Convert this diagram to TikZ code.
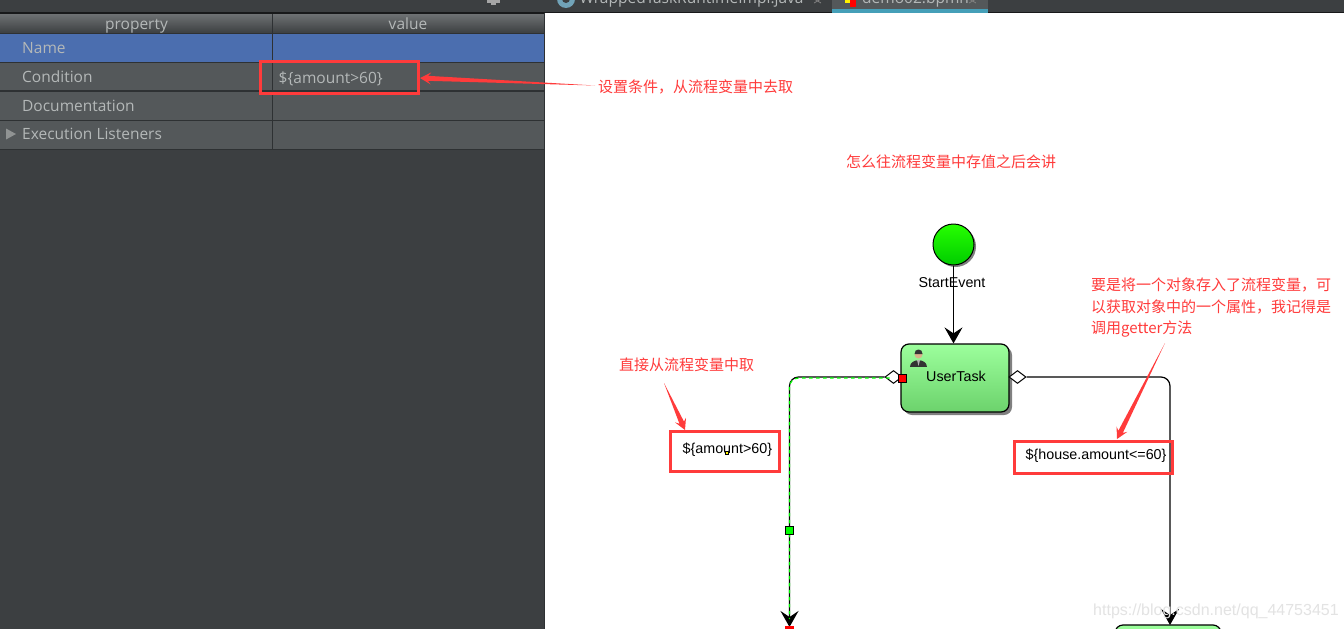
\documentclass[tikz,border=0pt]{standalone}
\usepackage{fontspec}
\setmainfont{Liberation Sans}
\newfontfamily\cjkfont{Noto Sans CJK SC}
\newfontfamily\panelfont{Open Sans}
\usetikzlibrary{arrows.meta,calc,shapes.geometric}
\definecolor{paneldark}{HTML}{3C3F41}
\definecolor{panelrow}{HTML}{54585A}
\definecolor{panelblue}{HTML}{4B6EAF}
\definecolor{panelline}{HTML}{2E3133}
\definecolor{paneltext}{HTML}{B4B8B8}
\definecolor{annotred}{HTML}{FF3B3B}
\definecolor{tasktop}{HTML}{9CFF9C}
\definecolor{taskbottom}{HTML}{6CD26C}
\definecolor{tabteal}{HTML}{459FB8}
\tikzset{
    paneltextstyle/.style={font=\panelfont\fontsize{15.5}{15.5}\selectfont,text=paneltext,inner sep=0pt,anchor=base west},
    tabtext/.style={font=\panelfont\fontsize{15.5}{15.5}\selectfont,text=paneltext,inner sep=0pt,anchor=base west},
    annotstyle/.style={font=\cjkfont\fontsize{15}{21.5}\selectfont,text=annotred,inner sep=0pt,anchor=west,align=left},
    redbox/.style={draw=annotred,line width=3pt},
    flowtext/.style={font=\fontsize{14.3}{14.3}\selectfont,text=black,inner sep=0pt},
    flowline/.style={line width=1.2pt,black,-{Stealth[length=16pt,width=18pt,inset=6pt]}},
    gateway/.style={diamond,draw=black,fill=white,line width=1pt,inner sep=0pt,minimum width=17pt,minimum height=13pt},
    taskbox/.style={draw=black,line width=1.2pt,rounded corners=8pt,top color=tasktop,bottom color=taskbottom,inner sep=0pt,minimum width=108pt,minimum height=68pt},
    handle/.style={draw=black,line width=0.8pt,inner sep=0pt,minimum size=8pt}
}
\newcommand{\annotarrow}[2]{%
    \fill [annotred] (#1) -- ($(#2)!8pt!(#1)!2.5pt!90:(#1)$) -- ($(#2)!11pt!(#1)!6pt!90:(#1)$) -- (#2)
        -- ($(#2)!11pt!(#1)!6pt!-90:(#1)$) -- ($(#2)!8pt!(#1)!2.5pt!-90:(#1)$) -- cycle;%
}
\begin{document}
\begin{tikzpicture}[x=1pt,y=-1pt]
    \useasboundingbox (0,0) rectangle (1344,629);
    \clip (0,0) rectangle (1344,629);

    % Drawing the dark panel and the white canvas
    \fill [paneldark] (0,0) rectangle (1344,629);
    \fill [white] (545,13) rectangle (1344,629);

    % Drawing the tab bar
    \fill [panelrow] (832,0) rectangle (988,9);
    \fill [black!60!paneldark] (0,12) rectangle (545,13.5);
    \fill [black!60!paneldark] (545,12) rectangle (832,13);
    \fill [black!60!paneldark] (988,12) rectangle (1344,13);
    \fill [tabteal] (832,9) rectangle (988,12.5);
    \fill [gray!70!white] (493.500000,-1) circle (5);
    \fill [gray!70!white] (487,0) rectangle (500,2.500000);
    \fill [gray!70!white] (491,2) rectangle (496,5);
    \fill [cyan!40!gray] (566,-1) circle (9);
    \fill [paneldark] (566,-1) circle (4);
    \node [tabtext] (tabjava) at (579.500000,4) {WrappedTaskRuntimeImpl.java};
    \node [tabtext] (tabbpmn) at (862,4) {demo02.bpmn};
    \fill [yellow] (845,0) rectangle (850,3);
    \fill [red] (850,0) rectangle (856,7);
    \draw [gray,line width=0.8pt] (814,-1) -- (821,3) (821,-1) -- (814,3);
    \draw [gray,line width=0.8pt] (969,-1) -- (976,3) (976,-1) -- (969,3);

    % Drawing the property table
    \shade [top color=panelrow!85!white,bottom color=paneldark] (0,14) rectangle (544,33);
    \fill [panelblue] (0,34) rectangle (544,62);
    \fill [panelrow] (0,62) rectangle (544,149);
    \foreach \ypos/\wid in {33.5/1,62/1,91/1.6,120/1,149/1} {
        \draw [panelline,line width=\wid pt] (0,\ypos) -- (544,\ypos);
    }
    \draw [panelline,line width=1pt] (272.500000,14) -- (272.500000,149);
    \draw [panelline,line width=1pt] (544.500000,13) -- (544.500000,629);

    % Marking the table texts
    \node [paneltextstyle,anchor=base] (propertyhead) at (136.500000,29.500000) {property};
    \node [paneltextstyle,anchor=base] (valuehead) at (408,29.500000) {value};
    \node [paneltextstyle] (namelabel) at (22,53) {Name};
    \node [paneltextstyle] (conditionlabel) at (22,82) {Condition};
    \node [paneltextstyle] (conditionvalue) at (278.500000,83) {\$\{amount>60\}};
    \node [paneltextstyle] (doclabel) at (22,111) {Documentation};
    \node [paneltextstyle] (listenerlabel) at (22,139) {Execution Listeners};
    \fill [paneltext!80!black] (6,128.500000) -- (16,134) -- (6,139.500000) -- cycle;

    % Drawing the flow nodes, each with its shadow first
    \fill [gray] (955.500000,246.500000) circle (20.5);
    \node [circle,draw=black,line width=1pt,top color=green!85!yellow,bottom color=green!80!black,inner sep=0pt,minimum size=41pt] (startevent) at (953.500000,244.500000) {};
    \node [flowtext] (startlabel) at (952,282.500000) {StartEvent};
    \fill [gray,rounded corners=8pt] (904,347) rectangle (1012,415);
    \node [taskbox] (usertask) at (955,378) {};
    \node [flowtext] (tasklabel) at (956,376.500000) {UserTask};
    \fill [gray,rounded corners=8pt] (1118,628) rectangle (1224,690);
    \node [taskbox,minimum width=106pt,minimum height=40pt] (lowertask) at (1168,645) {};

    % Drawing the user icon
    \fill [black!80] (910,367) .. controls (910,358) and (927,358) .. (927,367) -- cycle;
    \fill [gray!60] (917,360) -- (920,360) -- (918.500000,366) -- cycle;
    \fill [brown!60!white] (918.500000,354.500000) circle (4);
    \fill [black!80] (914.500000,354) .. controls (914,348) and (923,348) .. (922.500000,354) -- cycle;

    % Drawing the gateways and the flows
    \node [gateway] (gwleft) at (893.500000,377) {};
    \node [gateway] (gwright) at (1017.500000,377) {};
    \coordinate (leftend) at (789.500000,627);
    \coordinate (rightend) at (1170,625);
    \draw [flowline] (startevent.south) -- (startevent.south |- usertask.north);
    \draw [flowline,rounded corners=9pt] (gwright.east) -| (rightend);
    \draw [flowline,rounded corners=9pt] (gwleft.west) -| (leftend);
    \draw [green,line width=1.2pt,dash pattern=on 3.5pt off 3.5pt,rounded corners=9pt] ($(gwleft.west)+(5,1)$) -| ($(leftend)+(0,-8)$);
    \fill [red] (785,626) rectangle (794,629);

    % Drawing the handles
    \node [handle,fill=red] (redhandle) at (902.500000,378) {};
    \node [handle,fill=green] (greenhandle) at (789.500000,530.500000) {};
    \node [flowtext,anchor=west] (leftcondition) at (682.500000,449.500000) {\$\{amount>60\}};
    \node [draw=black,fill=yellow,line width=0.4pt,inner sep=0pt,minimum size=3.5pt] (yellowhandle) at (726.500000,452.500000) {};
    \node [flowtext,anchor=west] (rightcondition) at (1025.500000,455.500000) {\$\{house.amount<=60\}};

    % Drawing the red boxes
    \draw [redbox] (260.500000,61.500000) rectangle (418,93);
    \draw [redbox] (670,431.500000) rectangle (779.500000,471);
    \draw [redbox] (1014,441.500000) rectangle (1172,473.500000);

    % Marking the red notes
    \node [annotstyle] (notecondition) at (598,87) {设置条件，从流程变量中去取};
    \node [annotstyle] (notelater) at (846,161.500000) {怎么往流程变量中存值之后会讲};
    \node [annotstyle] (noteamount) at (619,365) {直接从流程变量中取};
    \node [annotstyle] (notehouse) at (1091,308) {要是将一个对象存入了流程变量，可\\以获取对象中的一个属性，我记得是\\调用getter方法};

    % Drawing the red arrows
    \coordinate (tailcondition) at (595,85.500000);
    \coordinate (headcondition) at (420,78);
    \coordinate (tailamount) at (664,383);
    \coordinate (headamount) at (685,430);
    \coordinate (tailhouse) at (1165,343);
    \coordinate (headhouse) at (1117,439);
    \annotarrow{tailcondition}{headcondition}
    \annotarrow{tailamount}{headamount}
    \annotarrow{tailhouse}{headhouse}

    % Marking the watermark
    \node [inner sep=0pt,anchor=west,text=gray!22!white,font=\fontsize{16}{17}\selectfont] (watermark) at (1093,611) {https://blog.csdn.net/qq\_44753451};
\end{tikzpicture}
\end{document}
